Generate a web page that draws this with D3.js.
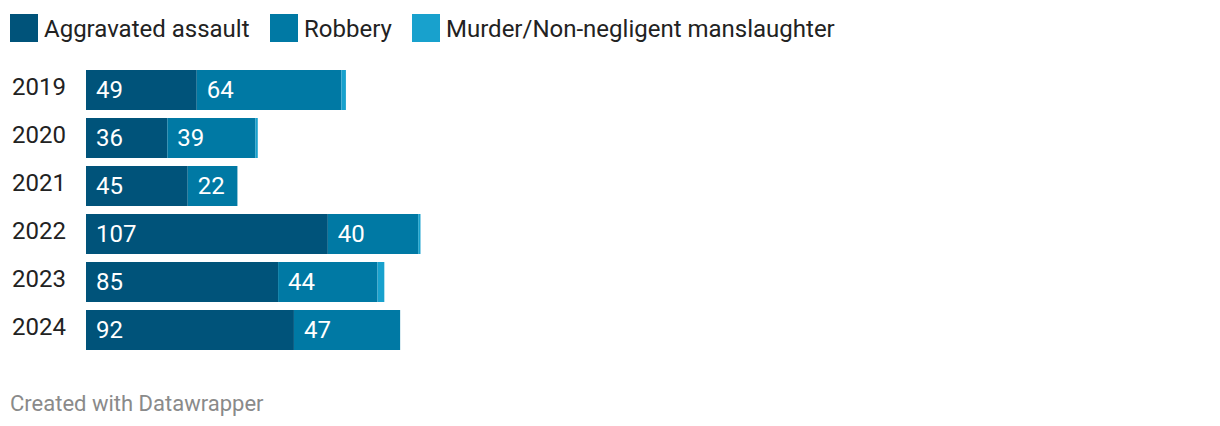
<!DOCTYPE html>
<html>
<head>
<meta charset="utf-8">
<script src="https://cdn.jsdelivr.net/npm/d3@7"></script>
<style>
  body { margin: 0; background: #fff; font-family: Roboto, sans-serif; }
</style>
</head>
<body>
<script>
var years = ["2019", "2020", "2021", "2022", "2023", "2024"];
var aggravated = [49, 36, 45, 107, 85, 92];
var robbery = [64, 39, 22, 40, 44, 47];
var murder = [2, 1, 0, 1, 3, 0];
var seriesNames = ["Aggravated assault", "Robbery", "Murder/Non-negligent manslaughter"];
var colours = ["#00537a", "#0079a4", "#18a1cd"];

var width = 1220, height = 426;

var svg = d3.select("body")
    .append("svg")
    .attr("width", width)
    .attr("height", height);

// legend
var legendX = [10, 270, 412];
var legend = svg.append("g").attr("class", "legend");
seriesNames.forEach(function (name, i) {
    legend.append("rect")
        .attr("x", legendX[i])
        .attr("y", 14)
        .attr("width", 28)
        .attr("height", 28)
        .style("fill", colours[i]);
    legend.append("text")
        .attr("x", legendX[i] + 34)
        .attr("y", 37)
        .text(name)
        .style("fill", "#222")
        .style("font-size", "24px");
});

// stack the data
var rows = years.map(function (y, i) {
    return { year: y, agg: aggravated[i], rob: robbery[i], mur: murder[i] };
});
var stack = d3.stack().keys(["agg", "rob", "mur"])(rows);

var x = d3.scaleLinear()
    .domain([0, 150])
    .range([86, 86 + 150 * 2.26]);

var y = d3.scaleBand()
    .domain(years)
    .range([66, 354])
    .paddingInner(1 / 6)
    .paddingOuter(1 / 12);

var bars = svg.append("g").attr("class", "bars");
bars.selectAll("g")
    .data(stack)
    .enter().append("g")
    .style("fill", function (d, i) { return colours[i]; })
    .selectAll("rect")
    .data(function (d) { return d; })
    .enter().append("rect")
    .attr("x", function (d) { return x(d[0]); })
    .attr("y", function (d) { return y(d.data.year); })
    .attr("width", function (d) { return x(d[1]) - x(d[0]); })
    .attr("height", y.bandwidth());

// value labels (first two series only)
var labels = svg.append("g").attr("class", "labels");
stack.slice(0, 2).forEach(function (s) {
    labels.selectAll(null)
        .data(s)
        .enter().append("text")
        .attr("x", function (d) { return x(d[0]) + 10; })
        .attr("y", function (d) { return y(d.data.year) + y.bandwidth() / 2 + 8; })
        .text(function (d) { return d[1] - d[0]; })
        .style("fill", "#fff")
        .style("font-size", "24px");
});

// year labels
svg.append("g").attr("class", "years")
    .selectAll("text")
    .data(years)
    .enter().append("text")
    .attr("x", 12)
    .attr("y", function (d) { return y(d) + y.bandwidth() / 2 + 5; })
    .text(function (d) { return d; })
    .style("fill", "#222")
    .style("font-size", "24px");

svg.append("text")
    .attr("x", 10)
    .attr("y", 411)
    .text("Created with Datawrapper")
    .style("fill", "#8a8a8a")
    .style("font-size", "22px");
</script>
</body>
</html>
